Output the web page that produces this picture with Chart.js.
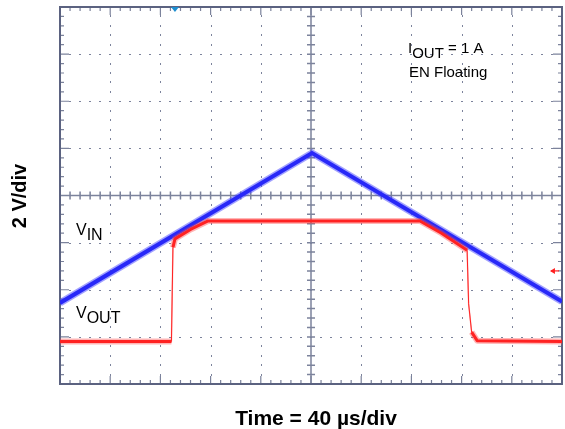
<!DOCTYPE html>
<html lang="en">
<head>
    <meta charset="UTF-8">
    <title>VIN / VOUT ramp</title>
    <script src="https://cdn.jsdelivr.net/npm/chart.js"></script>
    <style>
        body { margin: 0; background: #fff; }
        canvas { display: block; }
    </style>
</head>
<body>
    <canvas id="scope" width="565" height="429"></canvas>

    <script>
        // scope screen: 10 x 8 divisions, values in divisions
        const vinTime  = [0, 5.02, 10];
        const vinDiv   = [-2.28, 0.90, -2.25];

        const voutTime = [0, 2.22, 2.25, 2.29, 2.6, 2.95, 7.17, 7.6, 8.11, 8.14, 8.2, 8.31, 10];
        const voutDiv  = [-3.1, -3.1, -1.1, -0.92, -0.72, -0.54, -0.54, -0.8, -1.16, -2.3, -2.9, -3.08, -3.1];

        const xDivs = [0, 1, 2, 3, 4, 5, 6, 7, 8, 9, 10];
        const yDivs = [-4, -3, -2, -1, 0, 1, 2, 3, 4];

        const toPoints = (xs, ys) => xs.map((x, i) => ({ x: x, y: ys[i] }));

        // steep edges of the trace are drawn thin
        function steepWidth(normal, thin) {
            return ctx => {
                const a = ctx.p0.parsed, b = ctx.p1.parsed;
                const slope = Math.abs((b.y - a.y) / (b.x - a.x));
                return slope > 5 ? thin : normal;
            };
        }

        const gridColor = "#7c839c";
        const frameColor = "#5b6280";

        const scopeGrid = {
            id: "scopeGrid",
            beforeDatasetsDraw(chart) {
                const c = chart.ctx;
                const xs = chart.scales.x, ys = chart.scales.y;
                const left = xs.getPixelForValue(0), right = xs.getPixelForValue(10);
                const top = ys.getPixelForValue(4), bottom = ys.getPixelForValue(-4);
                const cx = xs.getPixelForValue(5), cy = ys.getPixelForValue(0);
                c.save();

                // dotted major lines
                c.fillStyle = gridColor;
                xDivs.forEach(d => {
                    if (d === 0 || d === 5 || d === 10) return;
                    const px = Math.round(xs.getPixelForValue(d));
                    for (let k = -19; k <= 19; k++) {
                        if (k % 5 === 0) continue;
                        const py = ys.getPixelForValue(k / 5);
                        c.fillRect(px, Math.round(py) - 1, 1, 2);
                    }
                });
                yDivs.forEach(d => {
                    if (d === 0 || d === -4 || d === 4) return;
                    const py = Math.round(ys.getPixelForValue(d));
                    for (let k = 1; k < 50; k++) {
                        const px = xs.getPixelForValue(k / 5);
                        c.fillRect(Math.round(px) - 1, py, 2, 1);
                    }
                });

                // centre cross with minor ticks
                c.strokeStyle = gridColor;
                c.lineWidth = 1.5;
                c.beginPath();
                c.moveTo(left, cy); c.lineTo(right, cy);
                c.moveTo(cx, top); c.lineTo(cx, bottom);
                for (let k = 1; k < 50; k++) {
                    const px = xs.getPixelForValue(k / 5);
                    c.moveTo(px, cy - 4); c.lineTo(px, cy + 4);
                }
                for (let k = -19; k <= 19; k++) {
                    const py = ys.getPixelForValue(k / 5);
                    c.moveTo(cx - 4, py); c.lineTo(cx + 4, py);
                }
                c.stroke();

                // frame ticks
                c.lineWidth = 1.2;
                c.beginPath();
                for (let k = 1; k < 50; k++) {
                    const px = xs.getPixelForValue(k / 5);
                    const len = k % 5 === 0 ? 8 : 4;
                    c.moveTo(px, top); c.lineTo(px, top + len);
                    c.moveTo(px, bottom); c.lineTo(px, bottom - len);
                }
                for (let k = -19; k <= 19; k++) {
                    const py = ys.getPixelForValue(k / 5);
                    const len = k % 5 === 0 ? 9 : 4;
                    c.moveTo(left, py); c.lineTo(left + len, py);
                    c.moveTo(right, py); c.lineTo(right - len, py);
                }
                c.stroke();

                // frame
                c.strokeStyle = frameColor;
                c.lineWidth = 2;
                c.strokeRect(left, top, right - left, bottom - top);
                c.restore();
            },
            afterDraw(chart) {
                const c = chart.ctx;
                const xs = chart.scales.x, ys = chart.scales.y;
                c.save();
                c.fillStyle = "#000";
                c.textBaseline = "alphabetic";
                c.textAlign = "left";

                // subscripted labels
                function subLabel(x, y, main, sub, rest, size) {
                    c.font = size + "px 'Liberation Sans', Arial, sans-serif";
                    c.fillText(main, x, y);
                    let w = c.measureText(main).width;
                    c.fillText(sub, x + w, y + 5);
                    w += c.measureText(sub).width;
                    if (rest) c.fillText(rest, x + w, y);
                }
                subLabel(408, 53, "I", "OUT", " = 1 A", 15);
                c.font = "15px 'Liberation Sans', Arial, sans-serif";
                c.fillText("EN Floating", 409, 77);
                subLabel(76, 235, "V", "IN", "", 16);
                subLabel(76, 318, "V", "OUT", "", 16);

                // axis titles
                c.font = "bold 21px 'Liberation Sans', Arial, sans-serif";
                c.textAlign = "center";
                c.fillText("Time = 40 \u00b5s/div", 316, 425);
                c.font = "bold 20px 'Liberation Sans', Arial, sans-serif";
                c.save();
                c.translate(26, 196);
                c.rotate(-Math.PI / 2);
                c.fillText("2 V/div", 0, 0);
                c.restore();

                // trigger marker and channel ground arrow
                const tx = xs.getPixelForValue(2.29), ty = ys.getPixelForValue(4);
                c.fillStyle = "#1d8ed0";
                c.beginPath();
                c.moveTo(tx - 4, ty); c.lineTo(tx + 4, ty); c.lineTo(tx, ty + 5);
                c.closePath(); c.fill();

                const ax = xs.getPixelForValue(9.78), ay = ys.getPixelForValue(-1.6);
                c.strokeStyle = "#ff2020";
                c.fillStyle = "#ff2020";
                c.lineWidth = 1.2;
                c.beginPath();
                c.moveTo(ax, ay); c.lineTo(ax + 8, ay); c.stroke();
                c.beginPath();
                c.moveTo(ax - 1, ay); c.lineTo(ax + 4, ay - 3); c.lineTo(ax + 4, ay + 3);
                c.closePath(); c.fill();
                c.restore();
            }
        };

        const chart = new Chart(document.getElementById("scope"), {
            type: "line",
            data: {
                datasets: [
                    {
                        label: "VOUT halo",
                        data: toPoints(voutTime, voutDiv),
                        borderColor: "rgba(255, 70, 70, 0.4)",
                        borderWidth: 6,
                        borderJoinStyle: "round",
                        segment: { borderWidth: steepWidth(6, 1.5) },
                        pointRadius: 0,
                        tension: 0
                    },
                    {
                        label: "VOUT",
                        data: toPoints(voutTime, voutDiv),
                        borderColor: "#ff0a0a",
                        borderWidth: 3,
                        borderJoinStyle: "round",
                        segment: { borderWidth: steepWidth(3, 1) },
                        pointRadius: 0,
                        tension: 0
                    },
                    {
                        label: "VIN halo",
                        data: toPoints(vinTime, vinDiv),
                        borderColor: "rgba(70, 70, 255, 0.5)",
                        borderWidth: 7,
                        pointRadius: 0,
                        tension: 0
                    },
                    {
                        label: "VIN",
                        data: toPoints(vinTime, vinDiv),
                        borderColor: "#0a0af0",
                        borderWidth: 4,
                        pointRadius: 0,
                        tension: 0
                    }
                ]
            },
            options: {
                responsive: false,
                animation: false,
                devicePixelRatio: 1,
                layout: { padding: { left: 60, top: 7, right: 3, bottom: 45 } },
                plugins: { legend: { display: false }, tooltip: { enabled: false } },
                scales: {
                    x: { type: "linear", min: 0, max: 10, display: false },
                    y: { type: "linear", min: -4, max: 4, display: false }
                }
            },
            plugins: [scopeGrid]
        });
    </script>
</body>
</html>
